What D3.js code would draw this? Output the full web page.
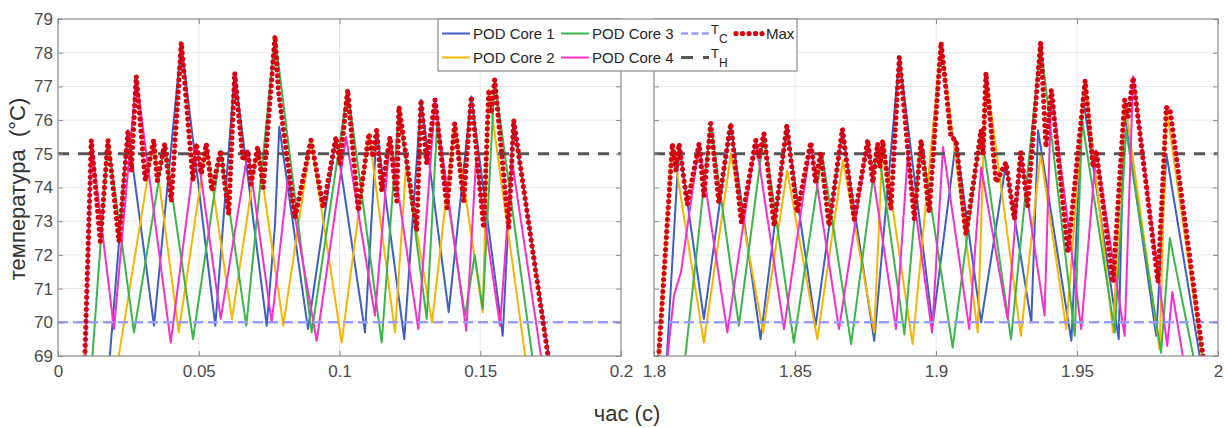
<!DOCTYPE html>
<html>
<head>
<meta charset="utf-8">
<script src="https://cdn.jsdelivr.net/npm/d3@7"></script>
<style>
  body { margin: 0; background: #fff; }
  svg { display: block; font-family: "Liberation Sans", Arial, sans-serif; }
</style>
</head>
<body>
<svg width="1228" height="428"></svg>
<script>
// ---- data: [time (s), temperature (°C)] ----
var core1Left = [[0.01794,68.5],[0.02487,75.7],[0.03410,69.9],[0.04380,78.3],[0.05588,69.9],[0.06277,77.4],[0.07414,69.9],[0.07709,72.9],[0.07861,75.8],[0.08881,69.8],[0.09876,75.5],[0.10906,69.7],[0.11321,75.7],[0.12302,69.5],[0.12895,76.6],[0.13879,70.3],[0.14682,76.7],[0.15798,69.6],[0.16181,76.0],[0.17513,68.6]];
var core2Left = [[0.02078,68.6],[0.03400,75.4],[0.04288,69.7],[0.05268,75.3],[0.06181,70.1],[0.07094,75.2],[0.08004,69.9],[0.08988,75.4],[0.10078,69.4],[0.11048,75.6],[0.11972,69.7],[0.12362,74.6],[0.13286,70.0],[0.14092,75.9],[0.15087,70.3],[0.15300,76.9],[0.16661,68.6]];
var core3Left = [[0.01190,68.6],[0.01776,75.4],[0.02700,69.7],[0.03790,75.3],[0.04796,69.5],[0.05780,75.1],[0.06689,69.9],[0.07709,78.5],[0.09012,69.7],[0.10291,76.9],[0.11499,69.4],[0.12114,76.4],[0.13098,70.1],[0.13464,75.8],[0.14458,70.2],[0.14803,72.0],[0.15087,70.4],[0.15513,77.2],[0.16909,68.6]];
var core4Left = [[0.00959,68.6],[0.01183,75.4],[0.01989,69.8],[0.02781,77.3],[0.04004,69.4],[0.04913,75.3],[0.05780,70.1],[0.06750,75.1],[0.07591,70.0],[0.08171,74.3],[0.09190,69.45],[0.10231,75.5],[0.11261,70.2],[0.11794,75.5],[0.12799,69.8],[0.13393,76.6],[0.14504,69.75],[0.14850,74.8],[0.15702,69.9],[0.16128,74.8],[0.17229,68.6]];
var maxLeft = [[0.00941,68.6],[0.01183,75.4],[0.01503,72.4],[0.01776,75.4],[0.02167,72.4],[0.02487,75.7],[0.02604,74.5],[0.02781,77.3],[0.03101,74.2],[0.03400,75.4],[0.03528,74.2],[0.03790,75.3],[0.04025,73.6],[0.04380,78.3],[0.04796,74.2],[0.04913,75.3],[0.05091,74.4],[0.05268,75.3],[0.05471,73.9],[0.05780,75.1],[0.06064,73.2],[0.06277,77.4],[0.06572,74.8],[0.06750,75.1],[0.06856,74.1],[0.07094,75.2],[0.07293,74.0],[0.07709,78.5],[0.07826,76.9],[0.08419,73.1],[0.08988,75.4],[0.09425,73.4],[0.09876,75.5],[0.10018,74.7],[0.10291,76.9],[0.10668,73.3],[0.11048,75.6],[0.11180,74.9],[0.11321,75.7],[0.11499,73.9],[0.11794,75.5],[0.12032,73.6],[0.12114,76.4],[0.12742,72.7],[0.12895,76.6],[0.13098,74.7],[0.13393,76.6],[0.13819,73.4],[0.14092,75.9],[0.14412,73.6],[0.14682,76.7],[0.15123,72.8],[0.15300,76.9],[0.15382,76.2],[0.15513,77.2],[0.16011,72.8],[0.16188,76.0],[0.17478,68.6]];

var core1Right = [[1.8043,68.6],[1.8089,75.3],[1.8177,70.1],[1.8272,75.9],[1.8378,69.5],[1.8471,75.8],[1.8573,69.9],[1.8668,75.7],[1.8781,69.45],[1.8870,77.9],[1.8988,69.9],[1.9071,75.4],[1.9160,70.0],[1.9248,74.7],[1.9338,70.0],[1.9362,75.7],[1.9480,69.45],[1.9521,76.7],[1.9648,69.5],[1.9667,76.3],[1.9781,69.6],[1.9817,75.0],[1.9943,68.6]];
var core2Right = [[1.8011,68.6],[1.8065,75.3],[1.8177,69.4],[1.8273,75.0],[1.8387,69.7],[1.8472,74.5],[1.8579,69.5],[1.8670,74.8],[1.8781,69.7],[1.8811,75.4],[1.8917,69.35],[1.9018,78.3],[1.9148,69.7],[1.9177,77.4],[1.9301,69.6],[1.9371,75.0],[1.9462,69.8],[1.9529,77.2],[1.9628,69.7],[1.9669,76.6],[1.9793,69.2],[1.9817,76.4],[1.9950,68.6]];
var core3Right = [[1.8106,68.6],[1.8201,75.9],[1.8301,69.9],[1.8390,75.6],[1.8496,69.4],[1.8596,75.0],[1.8699,69.35],[1.8793,75.3],[1.8888,69.64],[1.8947,75.4],[1.9059,69.25],[1.9160,75.7],[1.9266,69.5],[1.9371,78.3],[1.9492,69.6],[1.9518,76.0],[1.9634,69.7],[1.9674,75.7],[1.9798,69.1],[1.9829,72.5],[1.9922,68.6]];
var core4Right = [[1.8043,68.6],[1.8071,70.8],[1.8096,71.5],[1.8160,75.3],[1.8260,69.7],[1.8361,75.4],[1.8461,69.8],[1.8556,75.3],[1.8656,69.8],[1.8758,75.4],[1.8858,69.8],[1.8900,75.0],[1.8986,69.7],[1.9025,75.2],[1.9118,69.8],[1.9160,74.6],[1.9254,70.1],[1.9301,75.0],[1.9385,70.2],[1.9409,76.9],[1.9515,69.8],[1.9568,75.1],[1.9669,69.6],[1.9699,77.3],[1.9820,69.3],[1.9838,70.9],[1.9883,68.6]];
var maxRight = [[1.8014,68.6],[1.8065,75.3],[1.8078,74.5],[1.8089,75.3],[1.8118,73.5],[1.8160,75.3],[1.8177,73.75],[1.8201,75.9],[1.8230,73.55],[1.8272,75.9],[1.8310,72.96],[1.8361,75.4],[1.8372,74.9],[1.8390,75.6],[1.8426,72.86],[1.8471,75.83],[1.8508,73.26],[1.8556,75.34],[1.8573,74.15],[1.8591,75.04],[1.8621,72.86],[1.8668,75.73],[1.8710,73.06],[1.8758,75.4],[1.8776,74.15],[1.8793,75.3],[1.8801,74.6],[1.8811,75.4],[1.8840,73.36],[1.8870,77.86],[1.8923,73.06],[1.8947,75.4],[1.8976,73.26],[1.9018,78.3],[1.9053,75.5],[1.9071,75.4],[1.9106,72.6],[1.9160,75.7],[1.9167,75.0],[1.9177,77.4],[1.9213,74.15],[1.9248,74.74],[1.9278,73.06],[1.9301,75.04],[1.9325,73.45],[1.9371,78.3],[1.9390,75.2],[1.9409,76.9],[1.9468,72.07],[1.9529,77.17],[1.9557,74.6],[1.9568,75.1],[1.9628,71.18],[1.9669,76.6],[1.9681,76.1],[1.9699,77.27],[1.9787,71.2],[1.9817,76.38],[1.9830,76.3],[1.9953,68.6]];

var xTicksLeft = [0, 0.05, 0.1, 0.15, 0.2];
var xTicksRight = [1.8, 1.85, 1.9, 1.95, 2];
var yTicks = [69, 70, 71, 72, 73, 74, 75, 76, 77, 78, 79];
var tC = 70, tH = 75;

var coreNames = ['POD Core 1', 'POD Core 2', 'POD Core 3', 'POD Core 4'];
var coreColors = ['#3d5fc0', '#f7b500', '#3bb54a', '#f42fcb'];
var tcColor = '#9a9cff', thColor = '#555555', maxColor = '#d8000f';

// ---- layout ----
var svg = d3.select('svg');
var axisColor = '#8a8a8a', labelColor = '#4a4a4a';
var y = d3.scaleLinear().domain([69, 79]).range([356, 19]);

var panels = [
	{id: 'L', range: [58, 621], domain: [0, 0.2], ticks: xTicksLeft,
	 cores: [core1Left, core2Left, core3Left, core4Left], max: maxLeft, yLabels: true},
	{id: 'R', range: [654, 1218], domain: [1.8, 2], ticks: xTicksRight,
	 cores: [core1Right, core2Right, core3Right, core4Right], max: maxRight, yLabels: false}
];

svg.append('rect').attr('width', 1228).attr('height', 428).attr('fill', '#fff');

function styleAxis(sel) {
	sel.select('.domain').remove();
	sel.selectAll('.tick line').attr('stroke', axisColor);
	sel.selectAll('.tick text').attr('fill', labelColor).attr('font-size', 17)
		.attr('font-family', '"Liberation Sans", Arial, sans-serif');
}

panels.forEach(function(p) {
	var x = d3.scaleLinear().domain(p.domain).range(p.range);
	var g = svg.append('g');

	svg.append('clipPath').attr('id', 'clip' + p.id).append('rect')
		.attr('x', p.range[0]).attr('y', y(79))
		.attr('width', p.range[1] - p.range[0]).attr('height', y(69) - y(79));

	// grid
	g.append('g').selectAll('line').data(p.ticks.slice(1, -1)).join('line')
		.attr('x1', x).attr('x2', x).attr('y1', y(69)).attr('y2', y(79))
		.attr('stroke', '#e8e8e8').attr('stroke-width', 1);
	g.append('g').selectAll('line').data(yTicks.slice(1, -1)).join('line')
		.attr('x1', p.range[0]).attr('x2', p.range[1]).attr('y1', y).attr('y2', y)
		.attr('stroke', '#e8e8e8').attr('stroke-width', 1);

	var plot = g.append('g').attr('clip-path', 'url(#clip' + p.id + ')');
	var line = d3.line()
		.x(function(d) { return x(d[0]); })
		.y(function(d) { return y(d[1]); });

	p.cores.forEach(function(c, i) {
		plot.append('path').datum(c)
			.attr('fill', 'none')
			.attr('stroke', coreColors[i])
			.attr('stroke-width', 2)
			.attr('stroke-linejoin', 'round')
			.attr('d', line);
	});

	plot.append('path').datum([[p.domain[0], tC], [p.domain[1], tC]])
		.attr('fill', 'none').attr('stroke', tcColor).attr('stroke-width', 2.5)
		.attr('stroke-dasharray', '10 5').attr('d', line);
	plot.append('path').datum([[p.domain[0], tH], [p.domain[1], tH]])
		.attr('fill', 'none').attr('stroke', thColor).attr('stroke-width', 3)
		.attr('stroke-dasharray', '11 9').attr('d', line);

	plot.append('path').datum(p.max)
		.attr('fill', 'none')
		.attr('stroke', maxColor)
		.attr('stroke-width', 5.2)
		.attr('stroke-linecap', 'round')
		.attr('stroke-dasharray', '0.01 6')
		.attr('d', line);

	// axes (ticks point inward like the original)
	g.append('g').attr('transform', 'translate(0,' + y(69) + ')')
		.call(d3.axisBottom(x).tickValues(p.ticks).tickFormat(String)
			.tickSizeInner(-5).tickSizeOuter(0).tickPadding(9))
		.call(styleAxis);
	g.append('g').attr('transform', 'translate(0,' + y(79) + ')')
		.call(d3.axisTop(x).tickValues(p.ticks).tickFormat('')
			.tickSizeInner(-5).tickSizeOuter(0))
		.call(styleAxis);
	g.append('g').attr('transform', 'translate(' + p.range[0] + ',0)')
		.call(d3.axisLeft(y).tickValues(yTicks).tickFormat(p.yLabels ? String : '')
			.tickSizeInner(-5).tickSizeOuter(0).tickPadding(5))
		.call(styleAxis);
	g.append('g').attr('transform', 'translate(' + p.range[1] + ',0)')
		.call(d3.axisRight(y).tickValues(yTicks).tickFormat('')
			.tickSizeInner(-5).tickSizeOuter(0))
		.call(styleAxis);

	g.append('rect')
		.attr('x', p.range[0]).attr('y', y(79))
		.attr('width', p.range[1] - p.range[0]).attr('height', y(69) - y(79))
		.attr('fill', 'none').attr('stroke', axisColor).attr('stroke-width', 1.2);
});

// axis titles
svg.append('text')
	.attr('transform', 'translate(25,189) rotate(-90)')
	.attr('text-anchor', 'middle')
	.attr('font-size', 22)
	.attr('fill', '#333')
	.style('white-space', 'pre')
	.text('температура  (°C)');
svg.append('text')
	.attr('x', 627).attr('y', 421)
	.attr('text-anchor', 'middle')
	.attr('font-size', 22)
	.attr('fill', '#333')
	.text('час (с)');

// legend
var lg = svg.append('g');
lg.append('rect').attr('x', 438).attr('y', 19).attr('width', 359).attr('height', 52)
	.attr('fill', '#fff').attr('stroke', axisColor).attr('stroke-width', 1.2);

var colX = [442, 561, 681, 736];
var rowY = [33.5, 57.5];
var sampleLen = 28;
var legendItems = [
	{col: 0, row: 0, color: coreColors[0], text: coreNames[0]},
	{col: 0, row: 1, color: coreColors[1], text: coreNames[1]},
	{col: 1, row: 0, color: coreColors[2], text: coreNames[2]},
	{col: 1, row: 1, color: coreColors[3], text: coreNames[3]}
];
legendItems.forEach(function(d) {
	lg.append('line')
		.attr('x1', colX[d.col]).attr('x2', colX[d.col] + sampleLen)
		.attr('y1', rowY[d.row]).attr('y2', rowY[d.row])
		.attr('stroke', d.color).attr('stroke-width', 2);
	lg.append('text')
		.attr('x', colX[d.col] + sampleLen + 3).attr('y', rowY[d.row] + 5.5)
		.attr('font-size', 15).attr('fill', '#262626')
		.text(d.text);
});

// T_C
lg.append('line').attr('x1', colX[2]).attr('x2', colX[2] + sampleLen)
	.attr('y1', rowY[0]).attr('y2', rowY[0])
	.attr('stroke', tcColor).attr('stroke-width', 2.5).attr('stroke-dasharray', '7 3.5');
var tcText = lg.append('text').attr('x', colX[2] + sampleLen + 2).attr('y', rowY[0] + 0.5)
	.attr('font-size', 13).attr('fill', '#262626');
tcText.append('tspan').text('T');
tcText.append('tspan').attr('dy', 9).attr('font-size', 12).text('C');

// T_H
lg.append('line').attr('x1', colX[2]).attr('x2', colX[2] + sampleLen)
	.attr('y1', rowY[1]).attr('y2', rowY[1])
	.attr('stroke', thColor).attr('stroke-width', 3).attr('stroke-dasharray', '12 10');
var thText = lg.append('text').attr('x', colX[2] + sampleLen + 2).attr('y', rowY[1] + 0.5)
	.attr('font-size', 13).attr('fill', '#262626');
thText.append('tspan').text('T');
thText.append('tspan').attr('dy', 9).attr('font-size', 12).text('H');

// Max
lg.append('line').attr('x1', colX[3]).attr('x2', colX[3] + 27)
	.attr('y1', rowY[0]).attr('y2', rowY[0])
	.attr('stroke', maxColor).attr('stroke-width', 5.2)
	.attr('stroke-linecap', 'round').attr('stroke-dasharray', '0.01 6.5');
lg.append('text').attr('x', colX[3] + 30).attr('y', rowY[0] + 5.5)
	.attr('font-size', 15).attr('fill', '#262626').text('Max');
</script>
</body>
</html>
